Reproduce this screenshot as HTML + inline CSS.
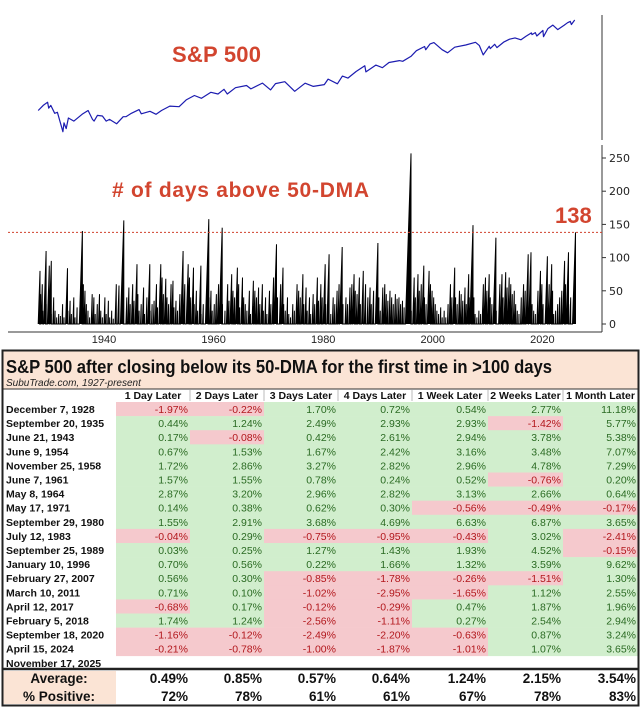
<!DOCTYPE html>
<html><head><meta charset="utf-8"><style>
body{margin:0;background:#fff;}
svg{display:block;font-family:"Liberation Sans",Arial,sans-serif;}
#tbl text{font-family:"Liberation Sans Narrow","Liberation Sans",Arial,sans-serif;}
</style></head><body>
<svg id="root" width="640" height="709" viewBox="0 0 640 709" xmlns="http://www.w3.org/2000/svg">
<g id="topchart"></g>
<g id="botchart"></g>
<g id="tbl"></g>
</svg>
<script>
const NS="http://www.w3.org/2000/svg";
// ---- S&P 500 data (year, price) ----
const spYears=[1928.0,1928.9,1929.7,1929.9,1930.3,1931.0,1931.5,1932.5,1932.7,1933.1,1933.5,1934.5,1936.0,1937.1,1937.9,1938.2,1938.8,1939.7,1940.4,1941.0,1942.3,1943.5,1944.0,1945.0,1946.4,1946.8,1948.4,1949.5,1950.5,1952.0,1953.7,1955.0,1956.5,1957.8,1959.5,1960.8,1961.9,1962.5,1964.0,1966.0,1966.8,1968.9,1970.4,1971.3,1973.0,1974.8,1976.7,1978.2,1980.2,1980.9,1982.6,1983.5,1984.5,1986.0,1987.6,1987.8,1989.6,1990.8,1992.0,1993.9,1994.5,1996.0,1997.0,1998.5,1998.7,1999.5,2000.2,2001.7,2002.7,2004.0,2006.0,2007.8,2008.5,2009.2,2010.3,2010.5,2011.3,2011.7,2013.0,2014.0,2015.0,2016.1,2017.0,2018.0,2018.1,2018.7,2018.98,2020.1,2020.2,2021.0,2021.9,2022.8,2024.0,2024.6,2025.1,2025.3,2025.9];
const spPrices=[18,25,31,21,25,15,16,4.5,8,5.5,11,9,14,18,10,9,13,12.5,9,10,7.5,12,12,15,19,14.5,17,14,18,24,23,36,48,40,59,53,72,53,80,92,74,108,69,104,118,63,107,87,98,140,103,170,150,230,336,224,350,295,415,470,450,620,900,1180,960,1400,1520,960,780,1130,1300,1560,1250,680,1200,1030,1360,1100,1600,1900,2080,1830,2300,2870,2580,2930,2350,3380,2240,3800,4790,3580,4800,5600,6100,4980,6700];
// ---- days above 50-DMA episodes, peak values per year starting 1928 ----
const firstYear=1928;
const peaksByYear=[[80,45,60,20],[110,30,88],[95,15,40],[20,10,15],[12,30,10],[84,20,35],[15,40,10],[25,140],[60,50,30],[20,10,45],[40,15,30],[45,20,10],[40,15,35],[10,20,8],[60,58],[156,20],[40,55,30],[60,35,90],[45,20,30],[55,15,40],[90,20,30],[35,60,25],[90,70,45],[68,40,30],[60,65,25],[35,20,45],[110,60],[90,70,40],[85,30,50],[20,88,15],[30,158],[40,50,20],[30,45,60],[145,30],[20,60,35],[75,50,40],[85,60,25],[70,40,30],[20,50,15],[65,50,40],[55,30,60],[20,40,15],[50,30,70],[120,40],[60,85,30],[20,40,15],[10,30,20],[60,50,40],[75,30,55],[20,40,15],[45,30,70],[35,60,40],[90,30,105],[20,15,40],[30,50,60],[116,30],[40,30,55],[60,75,50],[45,70,30],[80,60],[40,55,30],[50,122],[40,20,55],[60,45,35],[50,40,30],[45,38,40],[30,35,25],[257],[20,70,40],[75,50,60],[88,40,30],[80,60,50],[40,30,20],[15,25,10],[20,10,30],[60,40,85],[40,30,50],[45,35,55],[30,75,40,149],[20,40,15],[10,20,15],[60,70,50],[75,40,30],[130,20],[60,75,40],[78,55,70],[60,45,50],[30,20,15],[40,60,50],[105,108],[30,20,15],[50,80,60],[30,102],[60,90,50],[15,20,30],[40,50,95],[60,108,30],[40,138]];
const currentValue=138;
const yTicks=[0,50,100,150,200,250];
const xTickYears=[1940,1960,1980,2000,2020];
// ---- table data ----
const colHeaders=["1 Day Later","2 Days Later","3 Days Later","4 Days Later","1 Week Later","2 Weeks Later","1 Month Later"];
const rowDates=["December 7, 1928","September 20, 1935","June 21, 1943","June 9, 1954","November 25, 1958","June 7, 1961","May 8, 1964","May 17, 1971","September 29, 1980","July 12, 1983","September 25, 1989","January 10, 1996","February 27, 2007","March 10, 2011","April 12, 2017","February 5, 2018","September 18, 2020","April 15, 2024","November 17, 2025"];
const rowValues=[
[-1.97,-0.22,1.70,0.72,0.54,2.77,11.18],
[0.44,1.24,2.49,2.93,2.93,-1.42,5.77],
[0.17,-0.08,0.42,2.61,2.94,3.78,5.38],
[0.67,1.53,1.67,2.42,3.16,3.48,7.07],
[1.72,2.86,3.27,2.82,2.96,4.78,7.29],
[1.57,1.55,0.78,0.24,0.52,-0.76,0.20],
[2.87,3.20,2.96,2.82,3.13,2.66,0.64],
[0.14,0.38,0.62,0.30,-0.56,-0.49,-0.17],
[1.55,2.91,3.68,4.69,6.63,6.87,3.65],
[-0.04,0.29,-0.75,-0.95,-0.43,3.02,-2.41],
[0.03,0.25,1.27,1.43,1.93,4.52,-0.15],
[0.70,0.56,0.22,1.66,1.32,3.59,9.62],
[0.56,0.30,-0.85,-1.78,-0.26,-1.51,1.30],
[0.71,0.10,-1.02,-2.95,-1.65,1.12,2.55],
[-0.68,0.17,-0.12,-0.29,0.47,1.87,1.96],
[1.74,1.24,-2.56,-1.11,0.27,2.54,2.94],
[-1.16,-0.12,-2.49,-2.20,-0.63,0.87,3.24],
[-0.21,-0.78,-1.00,-1.87,-1.01,1.07,3.65],
[]];
const averages=["0.49%","0.85%","0.57%","0.64%","1.24%","2.15%","3.54%"];
const positives=["72%","78%","61%","61%","67%","78%","83%"];

function mk(tag,attrs,par,text){const e=document.createElementNS(NS,tag);for(const k in attrs)e.setAttribute(k,attrs[k]);if(text!==undefined)e.textContent=text;par.appendChild(e);return e;}
const xYear=y=>104+(y-1940)*5.48;
const yPrice=p=>132-(Math.log10(p)-Math.log10(4.4))*35.2;
const yDays=v=>324-v*0.664;

// top chart
const topG=document.getElementById('topchart');
let l=mk('line',{x1:602,y1:15,x2:602,y2:140,stroke:'#333','stroke-width':1},topG);


let pts=spYears.map((y,i)=>xYear(y).toFixed(1)+','+yPrice(spPrices[i]).toFixed(1)).join(' ');
let pl=mk('polyline',{points:pts,fill:'none',stroke:'#1c1cb0','stroke-width':1.2,'stroke-linejoin':'round'},topG);


let t=mk('text',{x:172,y:62,fill:'#d2452f','font-size':22,'font-weight':'bold',textLength:89},topG,'S&P 500');



// bottom chart
const botG=document.getElementById('botchart');
l=mk('line',{x1:602,y1:145,x2:602,y2:332,stroke:'#333','stroke-width':1},botG);


l=mk('line',{x1:8,y1:332,x2:602,y2:332,stroke:'#333','stroke-width':1},botG);


yTicks.forEach(v=>{
  const tk=mk('line',{x1:602,x2:606,y1:yDays(v),y2:yDays(v),stroke:'#333'},botG);
  
  
  const tx=mk('text',{x:609,y:yDays(v)+4,'font-size':11,fill:'#222',style:'font-family:"DejaVu Sans",sans-serif'},botG,String(v));
  
  
});
xTickYears.forEach(y=>{
  const tx=mk('text',{x:xYear(y),y:343,'font-size':11,fill:'#222','text-anchor':'middle'},botG,String(y));
  
  
});
let bp=[];
peaksByYear.forEach((arr,i)=>{
  arr.forEach((p,j)=>{
    const t0=firstYear+i+j/arr.length, t1=t0+p/252;
    bp.push(xYear(t0).toFixed(1)+','+yDays(0).toFixed(1));
    bp.push(xYear(t1).toFixed(1)+','+yDays(p).toFixed(1));
    bp.push(xYear(t1).toFixed(1)+','+yDays(0).toFixed(1));
  });
});
pl=mk('polyline',{points:bp.join(' '),fill:'#000',stroke:'#000','stroke-width':1},botG);


l=mk('line',{x1:8,x2:602,y1:yDays(currentValue),y2:yDays(currentValue),stroke:'#d0402c','stroke-width':1,'stroke-dasharray':'2,2'},botG);


t=mk('text',{x:555,y:223,fill:'#d2452f','font-size':22,'font-weight':'bold'},botG,String(currentValue));


t=mk('text',{x:112,y:197,fill:'#d2452f','font-size':21,'font-weight':'bold',textLength:257},botG,'# of days above 50-DMA');



// table
const tb=document.getElementById('tbl');
const colX=[116,190,264,338,412,488,563,638];
const rowTop=402,rowH=14.1;
let r=mk('rect',{x:3,y:351,width:635,height:38,fill:'#fbe4d5'},tb);


t=mk('text',{x:6,y:373,'font-size':18,'font-weight':'bold',fill:'#111',textLength:546,lengthAdjust:'spacingAndGlyphs'},tb,'S&P 500 after closing below its 50-DMA for the first time in >100 days');


t=mk('text',{x:6,y:386,'font-size':10,'font-style':'italic',fill:'#222'},tb,'SubuTrade.com, 1927-present');


l=mk('line',{x1:3,x2:638,y1:389,y2:389,stroke:'#333','stroke-width':1},tb);


colHeaders.forEach((h,i)=>{
  const tx=mk('text',{x:(colX[i]+colX[i+1])/2,y:399,'font-size':10.5,'font-weight':'bold','text-anchor':'middle',fill:'#111'},tb,h);
  
  
  if(i>0){const s=mk('line',{x1:colX[i],x2:colX[i],y1:390,y2:401,stroke:'#bbb'},tb);
  
  }
});
rowDates.forEach((d,ri)=>{
  const y=rowTop+ri*rowH;
  const tx=mk('text',{x:6,y:y+11,'font-size':10.5,'font-weight':'bold',fill:'#111'},tb,d);
  
  
  (rowValues[ri]||[]).forEach((v,ci)=>{
    const neg=v<0;
    const c=mk('rect',{x:colX[ci],y:y,width:colX[ci+1]-colX[ci],height:rowH+0.3,fill:neg?'#f5c9cd':'#d1eecd'},tb);
    
    
    const vt=mk('text',{x:colX[ci+1]-2,y:y+11,'font-size':10.5,'text-anchor':'end',fill:neg?'#b2171c':'#2a6a22'},tb,v.toFixed(2)+'%');
    
    
  });
});
l=mk('line',{x1:3,x2:638,y1:669,y2:669,stroke:'#222','stroke-width':2.5},tb);


r=mk('rect',{x:3,y:671,width:113,height:33,fill:'#fbe4d5'},tb);


[['Average:',averages,684],['% Positive:',positives,702]].forEach(([lab,vals,y])=>{
  const lt=mk('text',{x:59,y:y-1,'font-size':13.5,'font-weight':'bold','text-anchor':'middle',fill:'#111'},tb,lab);
  
  
  vals.forEach((v,i)=>{
    const vt=mk('text',{x:colX[i+1]-2,y:y-1,'font-size':13.5,'font-weight':'bold','text-anchor':'end',fill:'#111'},tb,v);
    
    
  });
});
r=mk('rect',{x:2.5,y:350.5,width:636,height:355,fill:'none',stroke:'#222','stroke-width':2},tb);


</script>
</body></html>
